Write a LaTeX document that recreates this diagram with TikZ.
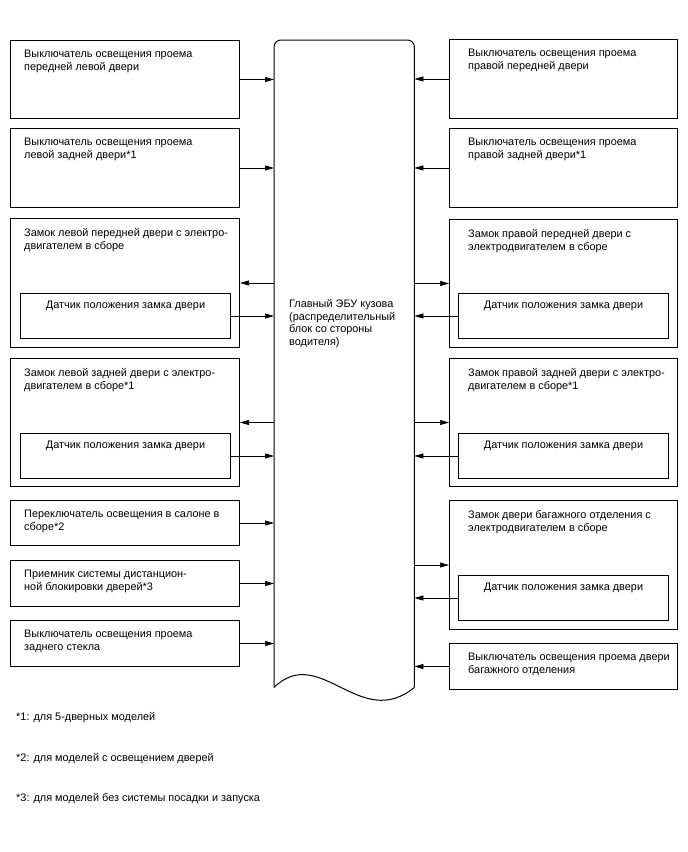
\documentclass[tikz,border=0pt]{standalone}
\usepackage{fontspec}
\setmainfont{Liberation Sans}
\usetikzlibrary{arrows.meta,positioning}

\tikzset{
    blok/.style={draw, line width=1pt, inner sep=0pt, anchor=north west},
    popis/.style={anchor=north west, inner sep=0pt, align=left,
        font=\fontsize{10.9}{12.8}\selectfont},
    sig/.style={-{Triangle[length=9pt,width=5pt]}, line width=0.7pt}
}

\begin{document}
\begin{tikzpicture}[x=1pt, y=-1pt]
        \useasboundingbox (0,0) rectangle (688,852);

        % ЭБУ
        \node[inner sep=0pt, anchor=north west, minimum width=140pt,
            minimum height=647pt] (ecu) at (274,40) {};
        \draw[line width=1pt, rounded corners=7pt]
            (ecu.south west) -- (ecu.north west) -- (ecu.north east) -- (ecu.south east);
        \draw[line width=1pt] (ecu.south east)
            .. controls (360,732) and (320,643) .. (ecu.south west);
        \node[popis] (tecu) at (289,299) {Главный ЭБУ кузова\\(распределительный\\блок со стороны\\водителя)};

        % левая сторона
        \node[blok, minimum width=229pt, minimum height=78pt] (L1) at (10,40) {};
        \node[blok, minimum width=229pt, minimum height=79pt] (L2) at (10,128) {};
        \node[blok, minimum width=229pt, minimum height=129pt] (L3) at (10,218) {};
        \node[blok, minimum width=210pt, minimum height=45pt] (L3d) at (20,293) {};
        \node[blok, minimum width=229pt, minimum height=128pt] (L4) at (10,358) {};
        \node[blok, minimum width=210pt, minimum height=45pt] (L4d) at (20,433) {};
        \node[blok, minimum width=229pt, minimum height=45pt] (L5) at (10,500) {};
        \node[blok, minimum width=229pt, minimum height=46pt] (L6) at (10,560) {};
        \node[blok, minimum width=229pt, minimum height=46pt] (L7) at (10,620) {};

        \node[popis] (tL1) at ([shift={(14,10)}]L1.north west) {Выключатель освещения проема\\передней левой двери};
        \node[popis] (tL2) at ([shift={(14,10)}]L2.north west) {Выключатель освещения проема\\левой задней двери*1};
        \node[popis] (tL3) at ([shift={(14,10)}]L3.north west) {Замок левой передней двери с электро-\\двигателем в сборе};
        \node[popis, anchor=north] (tL3d) at ([shift={(0,8)}]L3d.north) {Датчик положения замка двери};
        \node[popis] (tL4) at ([shift={(14,10)}]L4.north west) {Замок левой задней двери с электро-\\двигателем в сборе*1};
        \node[popis, anchor=north] (tL4d) at ([shift={(0,8)}]L4d.north) {Датчик положения замка двери};
        \node[popis] (tL5) at ([shift={(14,10)}]L5.north west) {Переключатель освещения в салоне в\\сборе*2};
        \node[popis] (tL6) at ([shift={(14,10)}]L6.north west) {Приемник системы дистанцион-\\ной блокировки дверей*3};
        \node[popis] (tL7) at ([shift={(14,10)}]L7.north west) {Выключатель освещения проема\\заднего стекла};

        % правая сторона
        \node[blok, minimum width=228pt, minimum height=79pt] (R1) at (449,39) {};
        \node[blok, minimum width=228pt, minimum height=79pt] (R2) at (449,128) {};
        \node[blok, minimum width=228pt, minimum height=128pt] (R3) at (449,219) {};
        \node[blok, minimum width=210pt, minimum height=45pt] (R3d) at (458,293) {};
        \node[blok, minimum width=228pt, minimum height=128pt] (R4) at (449,358) {};
        \node[blok, minimum width=210pt, minimum height=45pt] (R4d) at (458,433) {};
        \node[blok, minimum width=228pt, minimum height=129pt] (R5) at (449,500) {};
        \node[blok, minimum width=210pt, minimum height=45pt] (R5d) at (458,575) {};
        \node[blok, minimum width=228pt, minimum height=46pt] (R6) at (449,643) {};

        \node[popis] (tR1) at ([shift={(19,10)}]R1.north west) {Выключатель освещения проема\\правой передней двери};
        \node[popis] (tR2) at ([shift={(19,10)}]R2.north west) {Выключатель освещения проема\\правой задней двери*1};
        \node[popis] (tR3) at ([shift={(19,10)}]R3.north west) {Замок правой передней двери с\\электродвигателем в сборе};
        \node[popis, anchor=north] (tR3d) at ([shift={(0,8)}]R3d.north) {Датчик положения замка двери};
        \node[popis] (tR4) at ([shift={(19,10)}]R4.north west) {Замок правой задней двери с электро-\\двигателем в сборе*1};
        \node[popis, anchor=north] (tR4d) at ([shift={(0,8)}]R4d.north) {Датчик положения замка двери};
        \node[popis] (tR5) at ([shift={(19,10)}]R5.north west) {Замок двери багажного отделения с\\электродвигателем в сборе};
        \node[popis, anchor=north] (tR5d) at ([shift={(0,8)}]R5d.north) {Датчик положения замка двери};
        \node[popis] (tR6) at ([shift={(19,10)}]R6.north west) {Выключатель освещения проема двери\\багажного отделения};

        % сигналы слева
        \draw[sig] (L1.east) -- (L1.east -| ecu.west);
        \draw[sig] (L2.east) -- (L2.east -| ecu.west);
        \draw[sig] (L3.east -| ecu.west) -- (L3.east);
        \draw[sig] (L3d.east) -- (L3d.east -| ecu.west);
        \draw[sig] (L4.east -| ecu.west) -- (L4.east);
        \draw[sig] (L4d.east) -- (L4d.east -| ecu.west);
        \draw[sig] (L5.east) -- (L5.east -| ecu.west);
        \draw[sig] (L6.east) -- (L6.east -| ecu.west);
        \draw[sig] (L7.east) -- (L7.east -| ecu.west);

        % сигналы справа
        \draw[sig] (R1.west) -- (R1.west -| ecu.east);
        \draw[sig] (R2.west) -- (R2.west -| ecu.east);
        \draw[sig] (R3.west -| ecu.east) -- (R3.west);
        \draw[sig] (R3d.west) -- (R3d.west -| ecu.east);
        \draw[sig] (R4.west -| ecu.east) -- (R4.west);
        \draw[sig] (R4d.west) -- (R4d.west -| ecu.east);
        \draw[sig] (R5.west -| ecu.east) -- (R5.west);
        \draw[sig] (R5d.west) -- (R5d.west -| ecu.east);
        \draw[sig] (R6.west) -- (R6.west -| ecu.east);

        % примечания
        \node[popis, anchor=west] (n1) at (16,718) {*1: для 5-дверных моделей};
        \node[popis, anchor=west] (n2) at (16,759) {*2: для моделей с освещением дверей};
        \node[popis, anchor=west] (n3) at (16,799) {*3: для моделей без системы посадки и запуска};

    \end{tikzpicture}
\end{document}
